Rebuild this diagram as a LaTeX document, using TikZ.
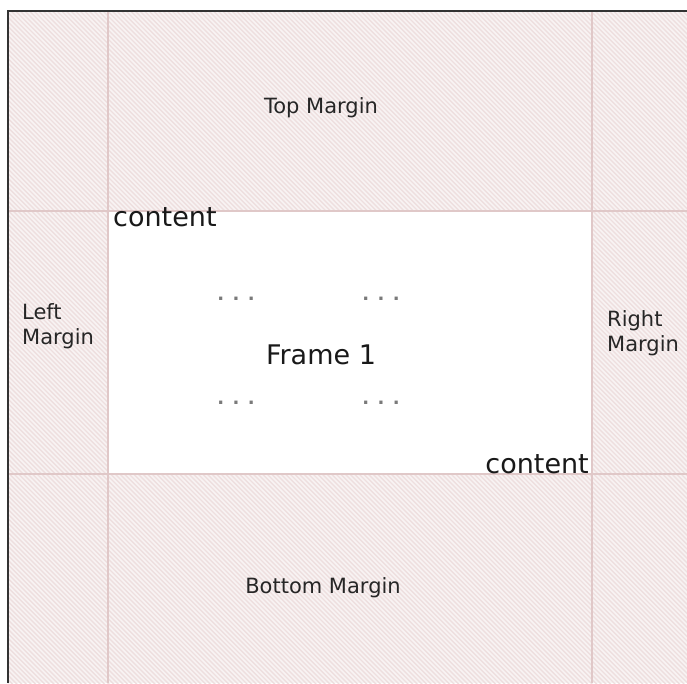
\documentclass[tikz,border=0pt]{standalone}
\usepackage{fontspec}
\setmainfont{DejaVu Sans}
\definecolor{hatchbg}{HTML}{F8F3F3}
\definecolor{hatchln}{HTML}{EEDFDF}
\definecolor{gridln}{HTML}{E0C8C8}
\definecolor{dotgray}{HTML}{7A7A7A}
\tikzset{
  lbl/.style={font=\fontsize{21}{25}\selectfont, text=black!85, inner sep=0pt},
  big/.style={font=\fontsize{27}{32}\selectfont, text=black!90, inner sep=0pt},
  dots/.style={font=\fontsize{18}{22}\selectfont\bfseries, text=dotgray, inner sep=0pt},
  gridline/.style={draw=gridln, line width=1.6pt},
  borderline/.style={draw=black!80, line width=2pt}
}
\begin{document}
\begin{tikzpicture}[x=1pt,y=-1pt]
\useasboundingbox (0,0) rectangle (687,683);
\fill[white] (0,0) rectangle (687,683);
% hatched page
\begin{scope}
\clip (8,11) rectangle (687,683);
\fill[hatchbg] (8,11) rectangle (687,683);
\foreach \c in {-690,-685.4,...,690}{
  \draw[hatchln, line width=1.4pt] (\c,0) -- ({\c+700},700);
}
\end{scope}
% frame area
\fill[white] (108,211) rectangle (592,474);
% grid lines
\draw[gridline] (108,11) -- (108,683);
\draw[gridline] (592,11) -- (592,683);
\draw[gridline] (8,211) -- (687,211);
\draw[gridline] (8,474) -- (687,474);
% border
\draw[borderline] (8,683) -- (8,11) -- (687,11);
% labels
\node[lbl] (top) at (321,108) {Top Margin};
\node[lbl] (bottom) at (323,588) {Bottom Margin};
\node[lbl, anchor=west, align=left] (left) at (22,326) {Left\\Margin};
\node[lbl, anchor=west, align=left] (right) at (607,333) {Right\\Margin};
\node[big] (frame) at (321,355) {Frame 1};
\node[big, anchor=north west] (c1) at (113,207) {content};
\node[big, anchor=south east] (c2) at (589,474) {content};
\node[dots] (d1) at (236,299) {. . .};
\node[dots] (d2) at (381,299) {. . .};
\node[dots] (d3) at (236,403) {. . .};
\node[dots] (d4) at (381,403) {. . .};
\end{tikzpicture}
\end{document}
